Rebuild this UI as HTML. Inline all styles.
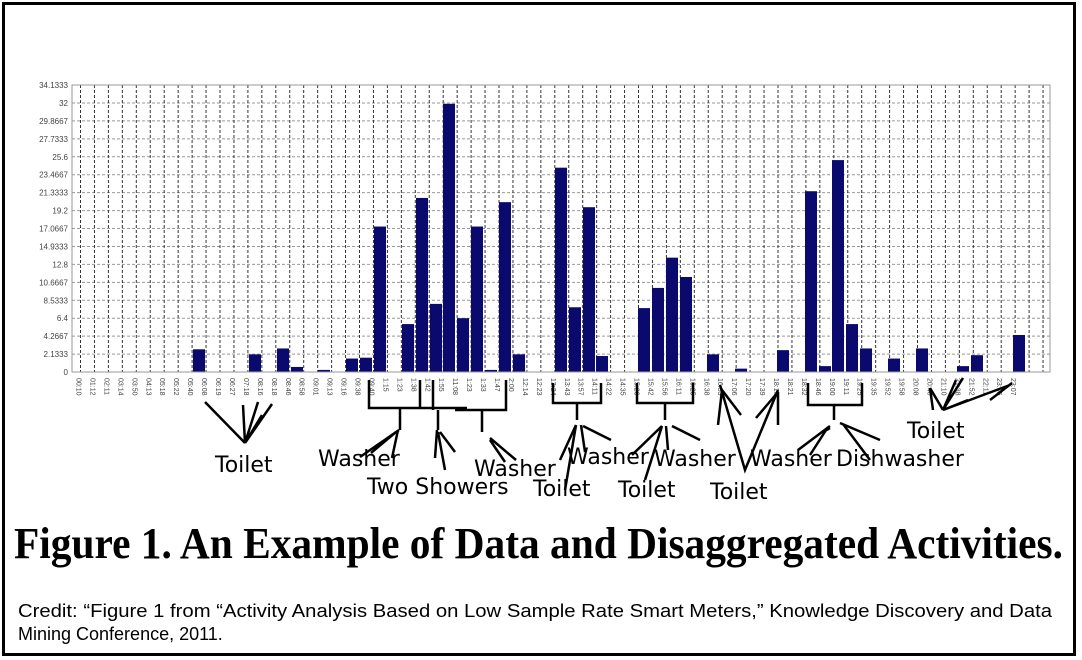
<!DOCTYPE html>
<html><head><meta charset="utf-8"><style>
html,body{margin:0;padding:0;background:#fff;}
svg{display:block}
</style></head><body>
<svg width="1082" height="660" xmlns="http://www.w3.org/2000/svg">
<rect x="0" y="0" width="1082" height="660" fill="#fff"/>
<rect x="3.5" y="3.5" width="1071" height="651" fill="none" stroke="#000" stroke-width="3"/>
<g id="grid" stroke-width="1" stroke-dasharray="3,2">
</g>
<g id="bars" fill="#0a0a6e"></g>
<g id="ylab" font-family="Liberation Sans, sans-serif" font-size="8" fill="#444" text-anchor="end"></g>
<g id="xlab" font-family="Liberation Sans, sans-serif" font-size="7" fill="#444"></g>
<rect x="72" y="85" width="978" height="287" fill="none" stroke="#999" stroke-width="1"/>
<g stroke="#000" stroke-width="2.5" fill="none">
<path d="M245 443 L205 402 M245 443 L243 405 M245 443 L258 402 M245 443 L272 404 M245 443 L262 415"/>
<path d="M369 380 V408 H467 M400 408 V430 M420 380 V408 M433 380 V410 M455 410 H506 V380 M438 410 V430 M482 410 V432"/>
<path d="M360 457 L399 430 M371 453 L396 432 M392 458 L398 430"/>
<path d="M435 458 L437 430 M445 470 L438 432 M455 452 L440 432"/>
<path d="M516 460 L490 438 M505 462 L490 440"/>
<path d="M553 383 V403 H601 V383 M577 403 V420"/>
<path d="M565 490 L576 425 M560 460 L576 425 M585 452 L581 425 M611 440 L583 426"/>
<path d="M637 383 V403 H693 V383 M665 403 V420"/>
<path d="M645 480 L662 426 M632 455 L662 426 M668 450 L666 426 M700 440 L672 426"/>
<path d="M720 385 L745 470 L778 390 M718 425 L722 390 M741 415 L722 390 M756 418 L778 392 M778 425 L778 392"/>
<path d="M808 383 V405 H862 V383 M834 405 V420"/>
<path d="M798 450 L830 426 M810 455 L828 427 M823 432 L830 428 M880 440 L840 423 M870 460 L843 424"/>
<path d="M933 410 L930 388 M943 410 L968 400 M943 410 L963 378 M943 410 L956 380 M943 410 L1010 385 M990 400 L1012 383 M930 388 L943 410"/>
</g>
<g font-family="DejaVu Sans, sans-serif" font-size="22" fill="#000">
<text x="215" y="472">Toilet</text>
<text x="318" y="466">Washer</text>
<text x="367" y="494">Two Showers</text>
<text x="474" y="476">Washer</text>
<text x="567" y="464">Washer</text>
<text x="533" y="496">Toilet</text>
<text x="654" y="466">Washer</text>
<text x="618" y="497">Toilet</text>
<text x="710" y="499">Toilet</text>
<text x="750" y="466">Washer</text>
<text x="836" y="466">Dishwasher</text>
<text x="907" y="438">Toilet</text>
</g>
<text x="14" y="558" textLength="1049" lengthAdjust="spacingAndGlyphs" font-family="Liberation Serif, serif" font-weight="bold" font-size="44" fill="#000">Figure 1. An Example of Data and Disaggregated Activities.</text>
<g font-family="Liberation Sans, sans-serif" font-size="18" fill="#000">
<text x="18" y="617" textLength="1034" lengthAdjust="spacingAndGlyphs">Credit:  “Figure 1 from “Activity Analysis Based on Low Sample Rate Smart Meters,”  Knowledge Discovery and Data</text>
<text x="18" y="640">Mining Conference, 2011.</text>
</g>
<script>
var ns="http://www.w3.org/2000/svg";
function el(p,t,a,txt){var e=document.createElementNS(ns,t);for(var k in a)e.setAttribute(k,a[k]);if(txt)e.textContent=txt;document.getElementById(p).appendChild(e);}
var yl=["0","2.1333","4.2667","6.4","8.5333","10.6667","12.8","14.9333","17.0667","19.2","21.3333","23.4667","25.6","27.7333","29.8667","32","34.1333"];
for(var i=0;i<17;i++){var y=372-i*287/16;if(i>0&&i<16)el("grid","line",{x1:72,x2:1050,y1:y,y2:y,stroke:"#999"});el("ylab","text",{x:68,y:y+3},yl[i]);}
for(var k=0;k<70;k++){var x=80.5+13.95*k;if(x<1050)el("grid","line",{x1:x,x2:x,y1:85,y2:372,stroke:"#333"});}
var b=[[199,2.7],[255,2.1],[283,2.8],[297,0.6],[324,0.25],[352,1.6],[366,1.7],[380,17.3],[408,5.7],[422,20.7],[436,8.1],[449,31.9],[463,6.4],[477,17.3],[491,0.25],[505,20.2],[519,2.1],[561,24.3],[575,7.7],[589,19.6],[602,1.9],[644,7.6],[658,10],[672,13.6],[686,11.3],[713,2.1],[741,0.4],[783,2.6],[811,21.5],[825,0.7],[838,25.2],[852,5.7],[866,2.8],[894,1.6],[922,2.8],[963,0.7],[977,2.0],[1019,4.4]];
b.forEach(function(d){var h=d[1]*287/34.1333;el("bars","rect",{x:d[0]-6,y:372-h,width:12,height:h});});
var lab=["00:10","01:12","02:11","03:14","03:50","04:13","05:18","05:22","05:40","06:08","06:19","06:27","07:18","08:16","08:18","08:46","08:58","09:01","09:13","09:16","09:38","09:40","1:15","1:23","1:38","1:42","1:55","11:08","1:23","1:33","1:47","2:00","12:14","12:23","13:24","13:43","13:57","14:11","14:22","14:35","15:26","15:42","15:56","16:11","16:25","16:38","16:53","17:06","17:20","17:39","18:10","18:21","18:32","18:46","19:00","19:11","19:25","19:35","19:52","19:58","20:08","20:46","21:10","21:38","21:52","22:11","23:05","23:07"];
lab.forEach(function(t,k){var x=73.5+13.95*k+3;el("xlab","text",{x:0,y:0,transform:"translate("+x+",378) rotate(90)"},t);});
</script>
</svg>
</body></html>
